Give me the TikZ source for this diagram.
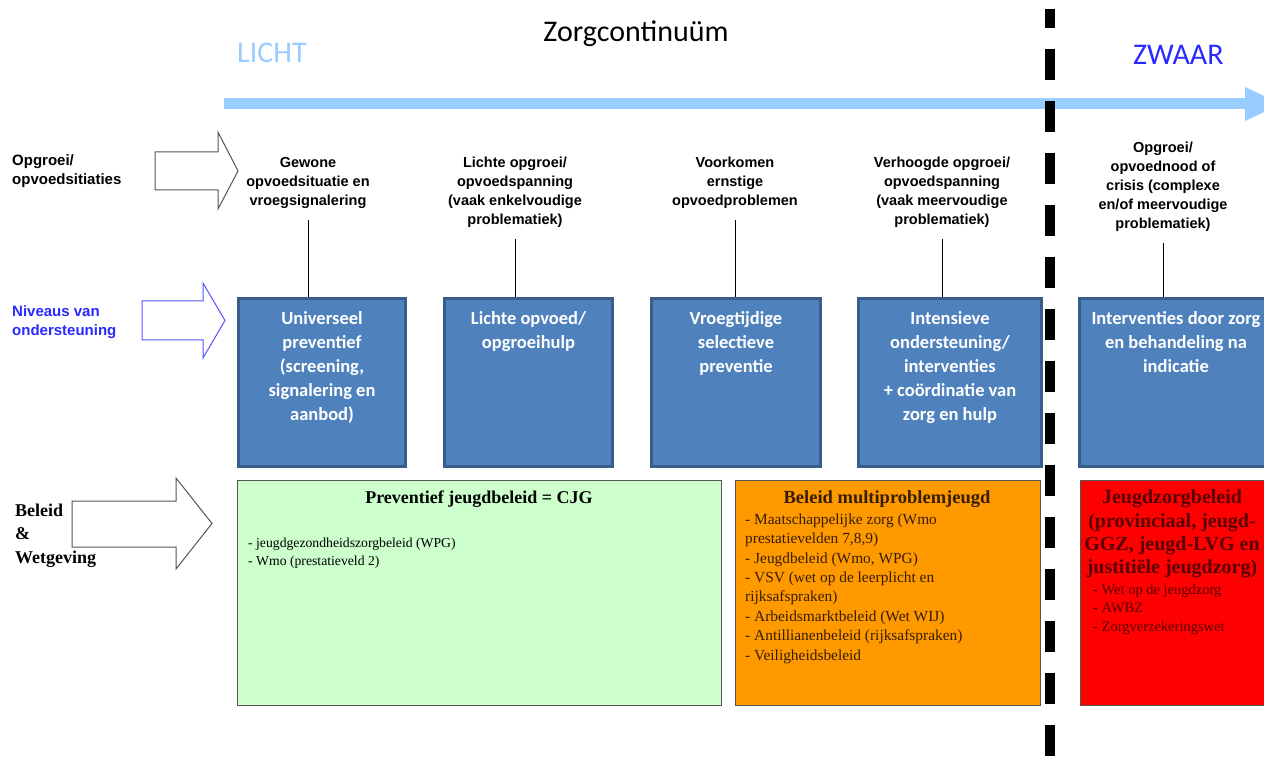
\documentclass[tikz,border=0pt]{standalone}
\usepackage{fontspec}
\setmainfont{Liberation Serif}
\newfontfamily\arialf{Liberation Sans}
\newfontfamily\calib{Carlito}
\usetikzlibrary{arrows.meta}
\definecolor{lichtblue}{RGB}{153,204,255}
\definecolor{zwaarblue}{RGB}{40,40,255}
\definecolor{boxfill}{RGB}{79,129,189}
\definecolor{boxedge}{RGB}{56,93,138}
\definecolor{greenfill}{RGB}{204,255,204}
\definecolor{orangefill}{RGB}{255,153,0}
\definecolor{redfill}{RGB}{255,0,0}
\definecolor{redtext}{RGB}{90,0,0}
\definecolor{orangetext}{RGB}{55,30,0}
\definecolor{edgegray}{RGB}{85,85,85}
\begin{document}
\begin{tikzpicture}[x=1pt,y=-1pt,
  bigtitle/.style={inner sep=0pt,font=\calib\fontsize{30}{36}\selectfont},
  sidelabel/.style={inner sep=0pt,anchor=north west,align=left,font=\arialf\bfseries\fontsize{15}{19}\selectfont},
  sitlabel/.style={inner sep=0pt,anchor=north,align=center,font=\arialf\bfseries\fontsize{14.5}{19}\selectfont},
  hollowarrow/.style={draw=edgegray,line width=1pt,fill=white},
  bluebox/.style={draw=boxedge,fill=boxfill,line width=3pt,minimum height=168pt,inner sep=0pt,anchor=north west},
  bluetext/.style={inner sep=0pt,anchor=north,align=center,text=white,font=\calib\bfseries\fontsize{18.5}{24}\selectfont},
  policybox/.style={draw=edgegray,line width=1.2pt,minimum height=225pt,inner sep=0pt,anchor=north west},
  conn/.style={draw=black,line width=1pt}
]
\useasboundingbox (0,0) rectangle (1264,759);
\clip (0,0) rectangle (1264,759);

% title and scale
\node[bigtitle,anchor=base] (title) at (636,42) {Zorgcontinuüm};
\node[bigtitle,anchor=base west,text=lichtblue] (licht) at (237,63) {LICHT};
\node[bigtitle,anchor=base west,text=zwaarblue] (zwaar) at (1133,65) {ZWAAR};
\coordinate (ax0) at (224,104);
\coordinate (ax1) at (1282,104);
\draw[line width=11pt,lichtblue,-{Triangle[length=37pt,width=31pt]}] (ax0) -- (ax1);

% left labels and hollow arrows
\node[sidelabel] (lab1) at (12,154) {\rule{0pt}{11.5pt}Opgroei/\\opvoedsitiaties};
\draw[hollowarrow] (155,152) -- (218,152) -- (218,132) -- (238,171) -- (218,209) -- (218,190) -- (155,190) -- cycle;
\node[sidelabel,text=zwaarblue] (lab2) at (12,305) {\rule{0pt}{11.5pt}Niveaus van\\ondersteuning};
\draw[hollowarrow,draw=zwaarblue!80] (142,301) -- (203,301) -- (203,283) -- (225,320.5) -- (203,358) -- (203,340) -- (142,340) -- cycle;
\node[inner sep=0pt,anchor=north west,align=left,font=\bfseries\fontsize{18}{23.5}\selectfont] (lab3) at (15,502.5) {\rule{0pt}{13.5pt}Beleid\\\&\\Wetgeving};
\draw[hollowarrow] (72,501) -- (176,501) -- (176,478) -- (212,523.5) -- (176,569) -- (176,547) -- (72,547) -- cycle;

% situations
\node[sitlabel] (t1) at (308,156) {\rule{0pt}{11pt}Gewone\\opvoedsituatie en\\vroegsignalering};
\node[sitlabel] (t2) at (515,156) {\rule{0pt}{11pt}Lichte opgroei/\\opvoedspanning\\(vaak enkelvoudige\\problematiek)};
\node[sitlabel] (t3) at (735,156) {\rule{0pt}{11pt}Voorkomen\\ernstige\\opvoedproblemen};
\node[sitlabel] (t4) at (942,156) {\rule{0pt}{11pt}Verhoogde opgroei/\\opvoedspanning\\(vaak meervoudige\\problematiek)};
\node[sitlabel] (t5) at (1163,141) {\rule{0pt}{11pt}Opgroei/\\opvoednood of\\crisis (complexe\\en/of meervoudige\\problematiek)};

% support levels
\node[bluebox,minimum width=167pt] (b1) at (237,297) {};
\node[bluebox,minimum width=168pt] (b2) at (443,297) {};
\node[bluebox,minimum width=169pt] (b3) at (650,297) {};
\node[bluebox,minimum width=183pt] (b4) at (857,297) {};
\node[bluebox,minimum width=200pt] (b5) at (1078,297) {};
\node[bluetext] (bt1) at ([yshift=-12pt]b1.north) {\rule{0pt}{15pt}Universeel\\preventief\\(screening,\\signalering en\\aanbod)};
\node[bluetext] (bt2) at ([yshift=-12pt]b2.north) {\rule{0pt}{15pt}Lichte opvoed/\\opgroeihulp};
\node[bluetext] (bt3) at ([yshift=-12pt]b3.north) {\rule{0pt}{15pt}Vroegtijdige\\selectieve\\preventie};
\node[bluetext] (bt4) at ([yshift=-12pt]b4.north) {\rule{0pt}{15pt}Intensieve\\ondersteuning/\\interventies\\+ coördinatie van\\zorg en hulp};
\node[bluetext] (bt5) at (1176,309) {\rule{0pt}{15pt}Interventies door zorg\\en behandeling na\\indicatie};

% connectors
\foreach \i in {1,...,5}{
  \draw[conn] ([yshift=-12pt]t\i.south) -- (t\i.south |- b\i.north);
}

% policy
\node[policybox,fill=greenfill,minimum width=484pt] (g) at (237,480) {};
\node[policybox,fill=orangefill,minimum width=305pt] (o) at (735,480) {};
\node[policybox,fill=redfill,minimum width=200pt] (r) at (1080,480) {};

\node[inner sep=0pt,anchor=north,font=\bfseries\fontsize{18}{22}\selectfont] (gt) at (479,489.5) {\rule{0pt}{13.5pt}Preventief jeugdbeleid = CJG};
\node[inner sep=0pt,anchor=north west,align=left,font=\fontsize{13.7}{18}\selectfont] (gi) at (248,537) {\rule{0pt}{10.5pt}- jeugdgezondheidszorgbeleid (WPG)\\- Wmo (prestatieveld 2)};

\node[inner sep=0pt,anchor=north,text=orangetext,font=\bfseries\fontsize{18.5}{22}\selectfont] (ot) at (887,489) {\rule{0pt}{14pt}Beleid multiproblemjeugd};
\node[inner sep=0pt,anchor=north west,align=left,text=orangetext,font=\fontsize{15.4}{19.4}\selectfont] (oi) at (745,512.5) {\rule{0pt}{11.5pt}- Maatschappelijke zorg (Wmo\\prestatievelden 7,8,9)\\- Jeugdbeleid (Wmo, WPG)\\- VSV (wet op de leerplicht en\\rijksafspraken)\\- Arbeidsmarktbeleid (Wet WIJ)\\- Antillianenbeleid (rijksafspraken)\\- Veiligheidsbeleid};

\node[inner sep=0pt,anchor=north,align=center,text=redtext,font=\bfseries\fontsize{20}{23.3}\selectfont] (rt) at (1172,488.5) {\rule{0pt}{15pt}Jeugdzorgbeleid\\(provinciaal, jeugd-\\GGZ, jeugd-LVG en\\justitiële jeugdzorg)};
\node[inner sep=0pt,anchor=north west,align=left,text=redtext,font=\fontsize{14.5}{18.5}\selectfont] (ri) at (1093,583) {\rule{0pt}{11pt}- Wet op de jeugdzorg\\- AWBZ\\- Zorgverzekeringswet};

% boundary between light and heavy care
\coordinate (d0) at (1050,9);
\coordinate (d1) at (1050,775);
\draw[line width=9.5pt,dash pattern=on 31pt off 21pt,dash phase=12pt] (d0) -- (d1);
\end{tikzpicture}
\end{document}
